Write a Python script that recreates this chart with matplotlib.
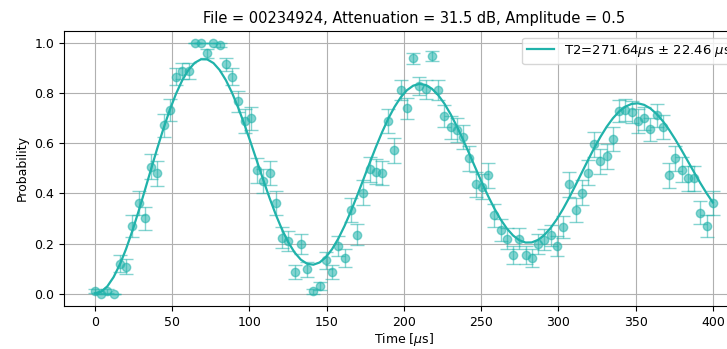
import numpy as np
import matplotlib
matplotlib.use("Agg")
import matplotlib.pyplot as plt

# measured probabilities, 100 delays between 0 and 400 us
time_us = np.linspace(0, 400, 100)
prob = [0.01, 0.0, 0.01, 0.0, 0.12, 0.107, 0.27, 0.362, 0.30, 0.506,
        0.48, 0.673, 0.733, 0.867, 0.89, 0.89, 1.0, 1.0, 0.96, 1.0,
        0.995, 0.916, 0.867, 0.769, 0.69, 0.70, 0.493, 0.45, 0.482, 0.362,
        0.224, 0.21, 0.087, 0.20, 0.097, 0.009, 0.029, 0.133, 0.087, 0.189,
        0.143, 0.333, 0.236, 0.403, 0.496, 0.487, 0.482, 0.69, 0.573, 0.813,
        0.74, 0.94, 0.83, 0.816, 0.95, 0.813, 0.71, 0.664, 0.653, 0.627,
        0.54, 0.437, 0.427, 0.473, 0.313, 0.253, 0.22, 0.153, 0.22, 0.153,
        0.143, 0.20, 0.216, 0.233, 0.189, 0.267, 0.437, 0.333, 0.403, 0.483,
        0.597, 0.529, 0.549, 0.619, 0.729, 0.733, 0.727, 0.69, 0.70, 0.656,
        0.713, 0.667, 0.473, 0.54, 0.495, 0.46, 0.46, 0.323, 0.269, 0.36]
n_shots = 100

# fit parameters (offset, amplitude, decay, period, shift)
fit_offset = 0.5
fit_amp = 0.5
fit_decay = 540.0
fit_period = 140.0
fit_shift = 1.5
fit_label = r"T2=271.64$\mu$s $\pm$ 22.46 $\mu$s"

prob = np.array(prob)
err = np.sqrt(prob * (1 - prob) / n_shots)
fit = fit_offset - fit_amp * np.exp(-time_us / fit_decay) * np.cos(2 * np.pi * (time_us - fit_shift) / fit_period)

color = "lightseagreen"

fig = plt.figure(figsize=(7.27, 3.49), dpi=100)
ax = fig.add_axes([0.088, 0.1232, 0.935, 0.788])
ax.errorbar(time_us, prob, yerr=err, fmt="o", color=color, alpha=0.55,
            markersize=6, capsize=5, elinewidth=1)
ax.plot(time_us, fit, color=color, lw=1.6, label=fit_label)
ax.set_xlim(-20, 420)
ax.set_ylim(-0.05, 1.05)
ax.set_xticks(np.arange(0, 401, 50))
ax.set_yticks(np.arange(0, 1.01, 0.2))
ax.tick_params(labelsize=9)
ax.grid(True)
ax.set_xlabel(r"Time [$\mu$s]", fontsize=9, labelpad=1.5)
ax.set_ylabel("Probability", fontsize=9)
ax.set_title("File = 00234924, Attenuation = 31.5 dB, Amplitude = 0.5", fontsize=10.5, x=0.515)
ax.legend(loc="upper right", fontsize=9.5)

fig.savefig("out.png", dpi=100)
